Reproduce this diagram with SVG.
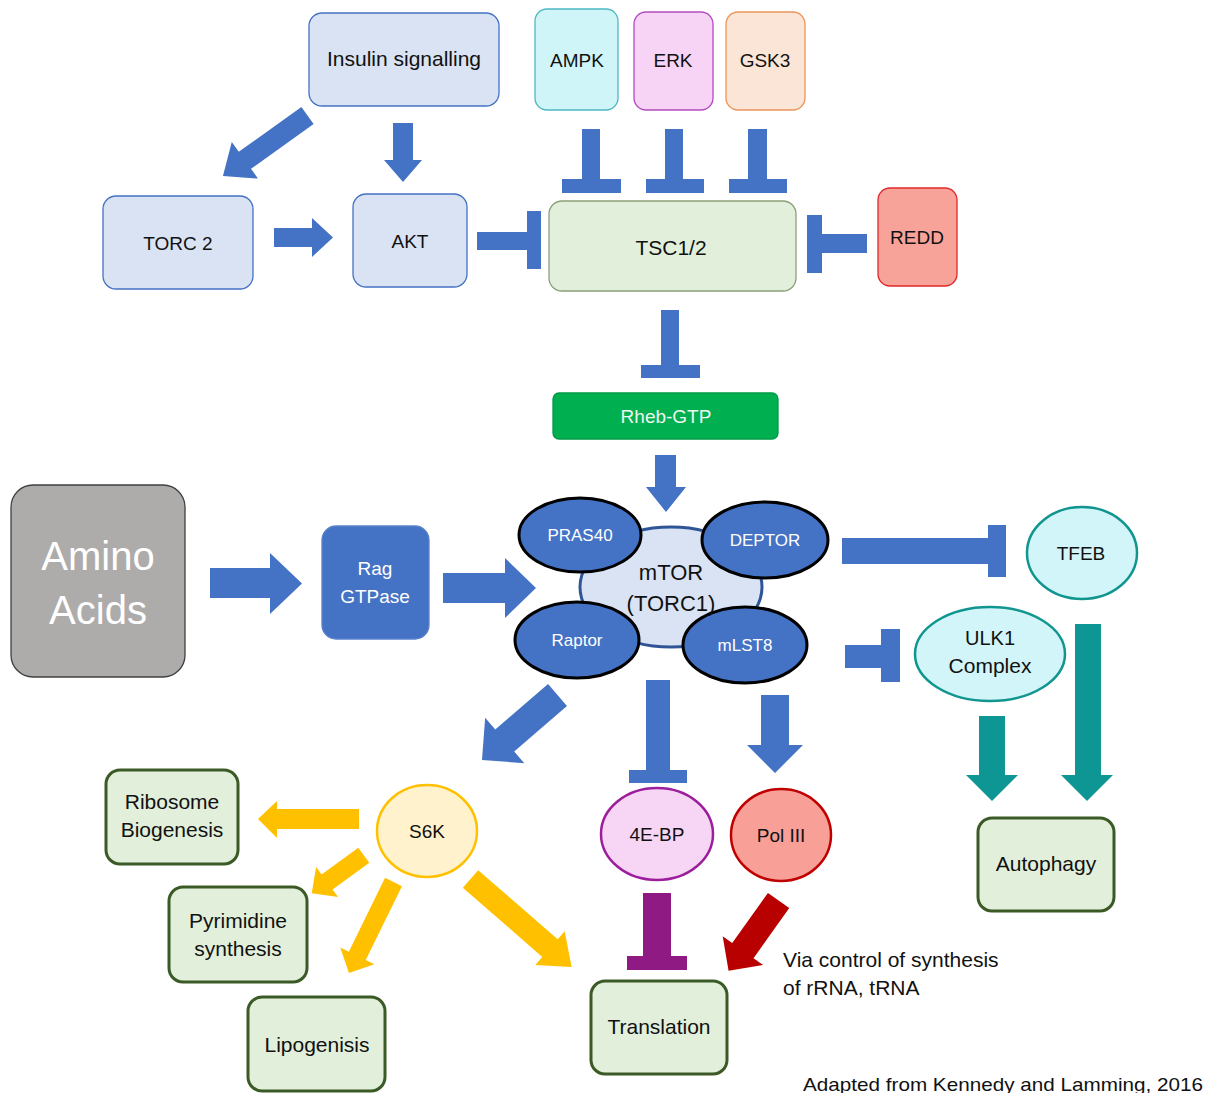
<svg xmlns="http://www.w3.org/2000/svg" width="1206" height="1093" viewBox="0 0 1206 1093">
<style>
text{font-family:"Liberation Sans",Arial,sans-serif;font-size:19px;fill:#111;text-anchor:middle}
.lc{font-size:21px}
.w{fill:#fff}
.blueA{fill:#4472C4}
.teal{fill:#0E9694}
.yel{fill:#FFC000}
.lb{fill:#DAE3F3;stroke:#4472C4;stroke-width:1.3}
.res{fill:#E2EFDA;stroke:#3B5A26;stroke-width:3}
.sat{fill:#4472C4;stroke:#000;stroke-width:3}
.st{font-size:17px;fill:#fff}
.cy{fill:#D1F5F8;stroke:#10958F;stroke-width:2.5}
</style>
<rect width="1206" height="1093" fill="#fff"/>
<g id="connectors">
  <polygon class="blueA" transform="translate(307.5,115.5) rotate(144.4)" points="0,-10.5 77,-10.5 77,-22.5 104,0 77,22.5 77,10.5 0,10.5"/>
  <polygon class="blueA" points="393,123 413,123 413,160 422,160 403,182 384,160 393,160"/>
  <polygon class="blueA" points="274,228 312,228 312,218 333,237.5 312,257 312,247 274,247"/>
  <rect class="blueA" x="477" y="232" width="50" height="18"/>
  <rect class="blueA" x="527" y="211" width="14" height="58"/>
  <rect class="blueA" x="582" y="129" width="18" height="50"/>
  <rect class="blueA" x="562" y="179" width="59" height="14"/>
  <rect class="blueA" x="665" y="129" width="18" height="50"/>
  <rect class="blueA" x="646" y="179" width="58" height="14"/>
  <rect class="blueA" x="748" y="129" width="19" height="50"/>
  <rect class="blueA" x="729" y="179" width="58" height="14"/>
  <rect class="blueA" x="807" y="215" width="15" height="58"/>
  <rect class="blueA" x="822" y="234" width="45" height="19"/>
  <rect class="blueA" x="661" y="310" width="18" height="55"/>
  <rect class="blueA" x="641" y="365" width="59" height="13"/>
  <polygon class="blueA" points="655,455 676,455 676,487 686,487 666,512 646,487 655,487"/>
  <polygon class="blueA" points="210,568 270,568 270,553 302,583.5 270,614 270,598 210,598"/>
  <polygon class="blueA" points="443,573 505,573 505,558 536,588 505,618 505,603 443,603"/>
  <polygon class="blueA" transform="translate(557.5,695) rotate(139.3)" points="0,-14.5 69.6,-14.5 69.6,-30 99.6,0 69.6,30 69.6,14.5 0,14.5"/>
  <rect class="blueA" x="646" y="680" width="24" height="90"/>
  <rect class="blueA" x="629" y="770" width="58" height="13"/>
  <polygon class="blueA" points="761,695 789,695 789,745 803,745 775,773 747,745 761,745"/>
  <rect class="blueA" x="842" y="538" width="146" height="26"/>
  <rect class="blueA" x="988" y="525" width="18" height="52"/>
  <rect class="blueA" x="845" y="645" width="36" height="23"/>
  <rect class="blueA" x="881" y="629" width="19" height="53"/>
  <polygon class="teal" points="1075,624 1101,624 1101,775 1113,775 1087,801 1061,775 1075,775"/>
  <polygon class="teal" points="979,716 1005,716 1005,775 1018,775 992,801 966,775 979,775"/>
  <polygon class="yel" points="359,809 277,809 277,801 258,819 277,838 277,829 359,829"/>
  <polygon class="yel" transform="translate(363.8,855.2) rotate(143.8)" points="0,-9.3 45.5,-9.3 45.5,-18.6 64.5,0 45.5,18.6 45.5,9.3 0,9.3"/>
  <polygon class="yel" transform="translate(393.5,882) rotate(116.1)" points="0,-9.4 82.3,-9.4 82.3,-19 101.3,0 82.3,19 82.3,9.4 0,9.4"/>
  <polygon class="yel" transform="translate(470.5,879) rotate(41)" points="0,-11.7 105.3,-11.7 105.3,-22.4 134,0 105.3,22.4 105.3,11.7 0,11.7"/>
  <rect fill="#901A84" x="643" y="893" width="28" height="63"/>
  <rect fill="#901A84" x="627" y="956" width="60" height="14"/>
  <polygon fill="#B80000" transform="translate(778.6,900.5) rotate(125.5)" points="0,-13.1 61.5,-13.1 61.5,-24.8 86.2,0 61.5,24.8 61.5,13.1 0,13.1"/>
</g>
<g id="insulin"><rect class="lb" x="309" y="13" width="190" height="93" rx="13"/><text class="lc" x="404" y="66">Insulin signalling</text></g>
<g id="ampk"><rect x="535" y="9" width="83" height="101" rx="12" fill="#D0F5F8" stroke="#4EB8C2" stroke-width="1.3"/><text x="577" y="67">AMPK</text></g>
<g id="erk"><rect x="634" y="12" width="79" height="98" rx="12" fill="#F7D4F5" stroke="#B24CBE" stroke-width="1.3"/><text x="673" y="67">ERK</text></g>
<g id="gsk3"><rect x="726" y="12" width="79" height="98" rx="12" fill="#FBE5D6" stroke="#EB955A" stroke-width="1.3"/><text x="765" y="67">GSK3</text></g>
<g id="torc2"><rect class="lb" x="103" y="196" width="150" height="93" rx="13"/><text x="178" y="250">TORC 2</text></g>
<g id="akt"><rect class="lb" x="353" y="194" width="114" height="93" rx="13"/><text x="410" y="248">AKT</text></g>
<g id="tsc"><rect x="549" y="201" width="247" height="90" rx="13" fill="#E2EFDA" stroke="#8AA07A" stroke-width="1.3"/><text x="671" y="255" style="font-size:21px">TSC1/2</text></g>
<g id="redd"><rect x="878" y="188" width="79" height="98" rx="12" fill="#F8A39A" stroke="#E02828" stroke-width="1.3"/><text x="917" y="244">REDD</text></g>
<g id="rheb"><rect x="553" y="393" width="225" height="46" rx="6" fill="#00B050" stroke="#009A47" stroke-width="1.3"/><text x="666" y="423" style="fill:#EEF6EE">Rheb-GTP</text></g>
<g id="amino"><rect x="11" y="485" width="174" height="192" rx="22" fill="#AEABAB" stroke="#404040" stroke-width="1.3"/><text class="w" x="98" y="570" style="font-size:40px">Amino</text><text class="w" x="98" y="624" style="font-size:40px">Acids</text></g>
<g id="rag"><rect x="322" y="526" width="107" height="113" rx="14" fill="#4472C4" stroke="#5B82CB" stroke-width="1.3"/><text class="w" x="375" y="575">Rag</text><text class="w" x="375" y="603">GTPase</text></g>
<g id="mtor">
  <ellipse cx="671" cy="587" rx="91" ry="60" fill="#DAE3F3" stroke="#2F5597" stroke-width="3"/>
  <g id="pras40"><ellipse class="sat" cx="580" cy="535" rx="61" ry="37"/><text class="st" x="580" y="541">PRAS40</text></g>
  <g id="deptor"><ellipse class="sat" cx="765" cy="540" rx="63" ry="38"/><text class="st" x="765" y="546">DEPTOR</text></g>
  <g id="raptor"><ellipse class="sat" cx="577" cy="640" rx="62" ry="38"/><text class="st" x="577" y="646">Raptor</text></g>
  <g id="mlst8"><ellipse class="sat" cx="745" cy="645" rx="62" ry="38"/><text class="st" x="745" y="651">mLST8</text></g>
  <text x="671" y="580" style="font-size:22px">mTOR</text>
  <text x="671" y="611" style="font-size:22px">(TORC1)</text>
</g>
<g id="tfeb"><ellipse class="cy" cx="1082" cy="553" rx="55" ry="46"/><text x="1081" y="560">TFEB</text></g>
<g id="ulk1"><ellipse class="cy" cx="990" cy="654" rx="75" ry="47"/><text x="990" y="645" style="font-size:20px">ULK1</text><text class="lc" x="990" y="673">Complex</text></g>
<g id="autophagy"><rect class="res" x="978" y="818" width="136" height="93" rx="14"/><text class="lc" x="1046" y="871">Autophagy</text></g>
<g id="s6k"><ellipse cx="427" cy="831" rx="50" ry="46" fill="#FFF2CC" stroke="#FFC000" stroke-width="2.5"/><text x="427" y="838">S6K</text></g>
<g id="4ebp"><ellipse cx="657" cy="834" rx="56" ry="46" fill="#F7D5F5" stroke="#9C1E9C" stroke-width="2.5"/><text x="657" y="841">4E-BP</text></g>
<g id="pol3"><ellipse cx="781" cy="835" rx="50" ry="46" fill="#F8A097" stroke="#C00000" stroke-width="2.5"/><text x="781" y="842">Pol III</text></g>
<g id="ribosome"><rect class="res" x="106" y="770" width="132" height="94" rx="14"/><text class="lc" x="172" y="809">Ribosome</text><text class="lc" x="172" y="837">Biogenesis</text></g>
<g id="pyrimidine"><rect class="res" x="169" y="887" width="138" height="95" rx="14"/><text class="lc" x="238" y="928">Pyrimidine</text><text class="lc" x="238" y="956">synthesis</text></g>
<g id="lipo"><rect class="res" x="248" y="997" width="137" height="94" rx="14"/><text class="lc" x="317" y="1052">Lipogenisis</text></g>
<g id="translation"><rect class="res" x="591" y="981" width="136" height="93" rx="14"/><text class="lc" x="659" y="1034">Translation</text></g>
<g id="notes">
  <text x="783" y="967" style="text-anchor:start;font-size:21px">Via control of synthesis</text>
  <text x="783" y="995" style="text-anchor:start;font-size:21px">of rRNA, tRNA</text>
  <text x="803" y="1091" style="text-anchor:start;font-size:19px" textLength="400" lengthAdjust="spacingAndGlyphs">Adapted from Kennedy and Lamming, 2016</text>
</g>
</svg>
